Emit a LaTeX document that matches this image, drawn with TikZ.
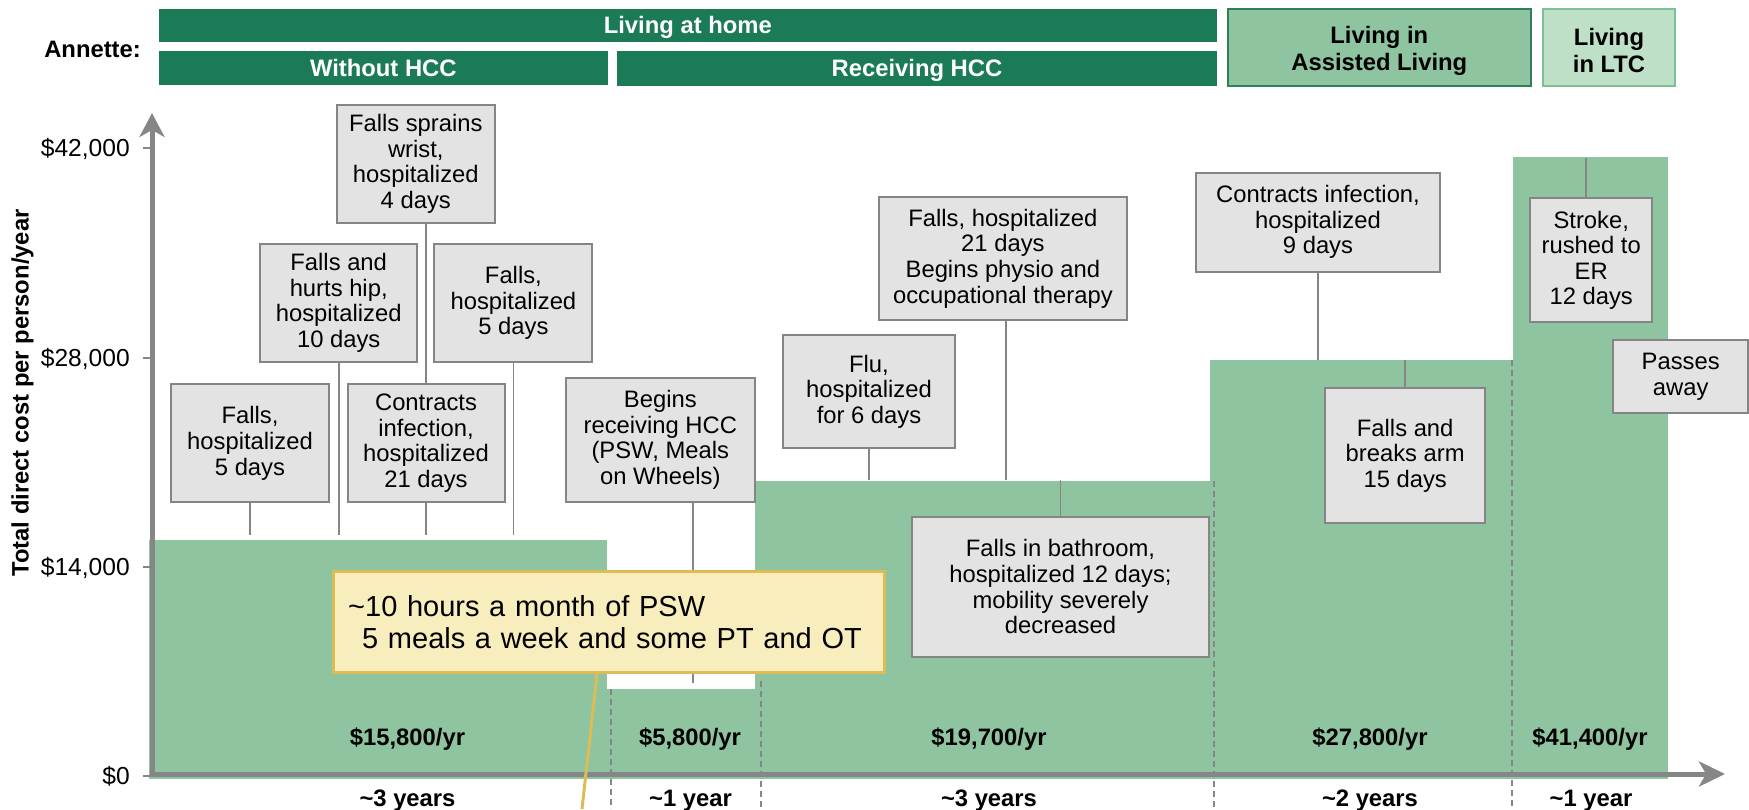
\documentclass[tikz,border=0pt]{standalone}
\usepackage{fontspec}
\setmainfont{Liberation Sans}
\usetikzlibrary{arrows.meta,calc}
\definecolor{bargreen}{RGB}{143,196,161}
\definecolor{darkgreen}{RGB}{26,123,86}
\definecolor{assistborder}{RGB}{47,127,92}
\definecolor{ltcfill}{RGB}{190,224,198}
\definecolor{ltcborder}{RGB}{125,192,149}
\definecolor{boxfill}{RGB}{227,227,227}
\definecolor{boxborder}{RGB}{133,133,133}
\definecolor{axisgray}{RGB}{134,134,134}
\definecolor{calloutfill}{RGB}{248,237,188}
\definecolor{calloutborder}{RGB}{220,189,85}
\tikzset{
  regfont/.style={font=\fontsize{23.8}{25.6}\selectfont},
  boldfont/.style={font=\bfseries\fontsize{23.8}{27.5}\selectfont},
  evbox/.style={draw=boxborder, fill=boxfill, line width=2pt, inner sep=0pt, align=center, regfont},
  hdr/.style={fill=darkgreen, text=white, inner sep=0pt, boldfont, text height=21pt, text depth=5pt},
  assist/.style={draw=assistborder, fill=bargreen, line width=2pt, inner sep=0pt, align=center, boldfont},
  ltcstyle/.style={draw=ltcborder, fill=ltcfill, line width=2pt, inner sep=0pt, align=center, boldfont},
  conn/.style={draw=axisgray, line width=1.8pt},
  divider/.style={draw=axisgray, line width=1.2pt, dash pattern=on 6pt off 4pt},
  axisline/.style={draw=axisgray, line width=5pt},
  tickline/.style={draw=axisgray, line width=2pt},
  ticklab/.style={anchor=base east, inner sep=0pt, font=\fontsize{24.6}{26}\selectfont},
  vallab/.style={anchor=base, inner sep=0pt, boldfont},
  callout/.style={draw=calloutborder, fill=calloutfill, line width=3pt, align=left, inner ysep=0pt, font=\fontsize{29}{32}\selectfont},
  callline/.style={draw=calloutborder, line width=3pt}
}
\begin{document}
\begin{tikzpicture}[x=1pt,y=-1pt]
\useasboundingbox (0,0) rectangle (1749,809);

% cost bars
\fill[bargreen] (149.3,540) rectangle (607.3,779);
\fill[bargreen] (607.3,689) rectangle (755,779);
\fill[bargreen] (755,481) rectangle (1210,779);
\fill[bargreen] (1210,360) rectangle (1513.3,779);
\fill[bargreen] (1513.3,157) rectangle (1668.3,779);

% period dividers
\draw[divider] (611,689) -- (611,809);
\draw[divider] (761,681) -- (761,809);
\draw[divider] (1214,481) -- (1214,809);
\draw[divider] (1512,360) -- (1512,809);

% axes
\coordinate (ytop) at (152,113);
\coordinate (origin) at (152,774);
\coordinate (xend) at (1725,774);
\draw[axisline, {Stealth[length=24pt,width=25pt,inset=7pt]}-{Stealth[length=26pt,width=25pt,inset=7pt]}] (ytop) -- (origin) -- (xend);

% ticks and labels
\draw[tickline] (142.7,148.3) -- (152,148.3);
\draw[tickline] (142.7,357.7) -- (152,357.7);
\draw[tickline] (142.7,567.3) -- (152,567.3);
\draw[tickline] (142.7,776) -- (152,776);
\node[ticklab] (t42) at (130,156.9) {\$42,000};
\node[ticklab] (t28) at (130,366.3) {\$28,000};
\node[ticklab] (t14) at (130,575.9) {\$14,000};
\node[ticklab] (t0) at (130,784.6) {\$0};

\node[rotate=90, anchor=base, inner sep=0pt, boldfont] (ytitle) at (28.5,393) {Total direct cost per person/year};

% header
\node[anchor=base east, inner sep=0pt, boldfont] (annette) at (141,57.3) {Annette:};
\node[hdr, minimum width=1058.5pt, minimum height=33.3pt] (home) at (687.8,25.7) {Living at home};
\node[hdr, minimum width=449.5pt, minimum height=34.5pt] (without) at (383.3,68.2) {Without HCC};
\node[hdr, minimum width=600pt, minimum height=34.5pt] (receiving) at (917,68.7) {Receiving HCC};
\node[assist, minimum width=303.5pt, minimum height=76.7pt] (assisted) at (1379.3,47.7) {\rule{0pt}{23.5pt}Living in\\Assisted Living};
\node[ltcstyle, minimum width=132pt, minimum height=76.7pt] (ltc) at (1609,47.7) {\rule{0pt}{22.5pt}Living\\in LTC};

% event boxes
\node[evbox, minimum width=158pt, minimum height=118pt] (f5l) at (250,443.3) {Falls,\\hospitalized\\5 days};
\node[evbox, minimum width=157pt, minimum height=117.7pt] (hip) at (338.7,302.9) {Falls and\\hurts hip,\\hospitalized\\10 days};
\node[evbox, minimum width=158pt, minimum height=117.7pt] (wrist) at (415.8,163.9) {Falls sprains\\wrist,\\hospitalized\\4 days};
\node[evbox, minimum width=158pt, minimum height=117.7pt] (f5r) at (513.4,302.9) {Falls,\\hospitalized\\5 days};
\node[evbox, minimum width=157pt, minimum height=118pt] (contr) at (426,443.3) {Contracts\\infection,\\hospitalized\\21 days};
\node[evbox, minimum width=189pt, minimum height=124pt] (begins) at (660.3,440) {Begins\\receiving HCC\\(PSW, Meals\\on Wheels)};
\node[evbox, minimum width=171.2pt, minimum height=112.4pt] (flu) at (869,391.5) {Flu,\\hospitalized\\for 6 days};
\node[evbox, minimum width=248.3pt, minimum height=123.6pt] (f21) at (1002.9,258.5) {Falls, hospitalized\\21 days\\Begins physio and\\occupational therapy};
\node[evbox, minimum width=297pt, minimum height=140pt] (bath) at (1060.5,586.7) {Falls in bathroom,\\hospitalized 12 days;\\mobility severely\\decreased};
\node[evbox, minimum width=244.5pt, minimum height=99pt] (c9) at (1318,222.2) {Contracts infection,\\hospitalized\\9 days};
\node[evbox, minimum width=160.4pt, minimum height=134.4pt] (arm) at (1405.2,455.5) {Falls and\\breaks arm\\15 days};
\node[evbox, minimum width=122.3pt, minimum height=124pt] (stroke) at (1591.2,260.3) {Stroke,\\rushed to\\ER\\12 days};
\node[evbox, minimum width=134.7pt, minimum height=73.3pt] (passes) at (1680.7,376.7) {Passes\\away};

% connectors
\coordinate (b1) at (0,535);
\coordinate (b3) at (0,480);
\coordinate (b4) at (0,360);
\coordinate (b5) at (0,158);
\coordinate (begend) at (693,683);
\draw[conn] (f5l.south) -- (f5l.south |- b1);
\draw[conn] (hip.south) -- (hip.south |- b1);
\draw[conn] (contr.south) -- (contr.south |- b1);
\draw[conn] (f5r.south) -- (f5r.south |- b1);
\draw[conn] (wrist.south -| contr.north) -- (contr.north);
\draw[conn] (begend) -- (begend |- begins.south);
\draw[conn] (flu.south) -- (flu.south |- b3);
\draw[conn] ([xshift=3pt]f21.south) -- ([xshift=3pt]f21.south |- b3);
\draw[conn] (bath.north) -- (bath.north |- b3);
\draw[conn] (c9.south) -- (c9.south |- b4);
\draw[conn] (arm.north) -- (arm.north |- b4);
\draw[conn] ([xshift=-5pt]stroke.north) -- ([xshift=-5pt]stroke.north |- b5);

% cost and duration labels
\node[vallab] (v1) at (407.5,745) {\$15,800/yr};
\node[vallab] (v2) at (690,745) {\$5,800/yr};
\node[vallab] (v3) at (989,745) {\$19,700/yr};
\node[vallab] (v4) at (1370,745) {\$27,800/yr};
\node[vallab] (v5) at (1590,745) {\$41,400/yr};
\node[vallab] (d1) at (407.5,806) {\textasciitilde3 years};
\node[vallab] (d2) at (690.5,806) {\textasciitilde1 year};
\node[vallab] (d3) at (989,806) {\textasciitilde3 years};
\node[vallab] (d4) at (1370,806) {\textasciitilde2 years};
\node[vallab] (d5) at (1591,806) {\textasciitilde1 year};

% callout
\node[callout, anchor=north west, minimum width=550.5pt, minimum height=101pt, text width=521.7pt, inner xsep=14.4pt] (callout) at (332.3,570) {\textasciitilde10 hours a month of PSW\\\hspace*{14pt}5 meals a week and some PT and OT};
\coordinate (clend) at (582,809);
\draw[callline] ([xshift=264.7pt]callout.south west) -- (clend);
\end{tikzpicture}
\end{document}
